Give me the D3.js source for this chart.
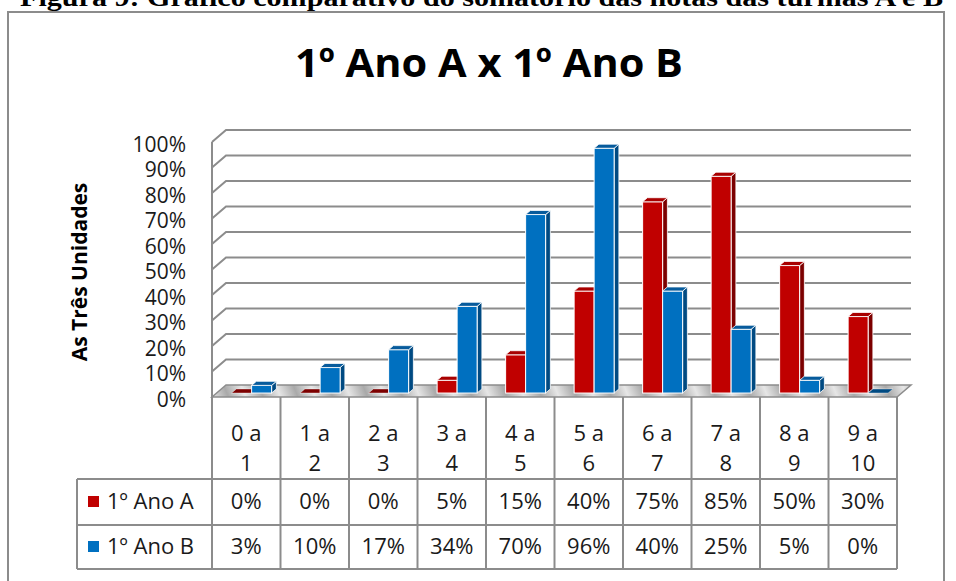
<!DOCTYPE html>
<html>
<head>
<meta charset="utf-8">
<script src="https://cdn.jsdelivr.net/npm/d3@7"></script>
<style>
  body { margin: 0; background: #fff; }
  text { font-family: 'Open Sans', 'Noto Sans', sans-serif; fill: #1a1a1a; }
</style>
</head>
<body>
<div id="graphics"></div>
<script>
// data
const categories = ['0 a 1', '1 a 2', '2 a 3', '3 a 4', '4 a 5', '5 a 6', '6 a 7', '7 a 8', '8 a 9', '9 a 10'];
const seriesNames = ['1º Ano A', '1º Ano B'];
const anoA = [0, 0, 0, 5, 15, 40, 75, 85, 50, 30];
const anoB = [3, 10, 17, 34, 70, 96, 40, 25, 5, 0];
const yTicks = [0, 10, 20, 30, 40, 50, 60, 70, 80, 90, 100];

const width = 956;
const height = 581;

// 3d offset of the back wall
const DX = 14;
const DY = 12;
// bars sit between these depth fractions
const zFront = 0.33;
const zBack = 0.67;

const colors = {
	'1º Ano A': { front: '#c00000', side: '#7c0000', top: '#a80000' },
	'1º Ano B': { front: '#0070c0', side: '#004a82', top: '#075b9c' }
};

const svg = d3
	.select('#graphics')
	.append('svg')
	.attr('width', width)
	.attr('height', height);

const defs = svg.append('defs');
const floorGrad = defs.append('linearGradient')
	.attr('id', 'floorGrad')
	.attr('gradientUnits', 'userSpaceOnUse')
	.attr('x1', 0).attr('y1', 0).attr('x2', 30).attr('y2', -12)
	.attr('spreadMethod', 'repeat');
floorGrad.append('stop').attr('offset', '0%').attr('stop-color', '#a9a9a9');
floorGrad.append('stop').attr('offset', '50%').attr('stop-color', '#e6e6e6');
floorGrad.append('stop').attr('offset', '100%').attr('stop-color', '#a9a9a9');

// caption of the figure, cut at the top of the picture
svg.append('text')
	.text('Figura 9: Gráfico comparativo do somatório das notas das turmas A e B')
	.attr('x', 20)
	.attr('y', 6)
	.attr('textLength', 923)
	.attr('lengthAdjust', 'spacingAndGlyphs')
	.style('font-family', "'Liberation Serif', 'DejaVu Serif', serif")
	.style('font-weight', 'bold')
	.style('font-size', '26px')
	.style('fill', '#000');

// frame
svg.append('rect')
	.attr('x', 8)
	.attr('y', 12)
	.attr('width', 936)
	.attr('height', 600)
	.attr('fill', 'none')
	.attr('stroke', '#8c8c8c')
	.attr('stroke-width', 2);

// title
svg.append('text')
	.text('1º Ano A x 1º Ano B')
	.attr('x', 489)
	.attr('y', 77)
	.attr('text-anchor', 'middle')
	.attr('textLength', 388)
	.attr('lengthAdjust', 'spacingAndGlyphs')
	.style('font-weight', 'bold')
	.style('font-size', '40px')
	.style('fill', '#000');

// y axis title
svg.append('text')
	.text('As Três Unidades')
	.attr('transform', 'translate(87,272) rotate(-90)')
	.attr('text-anchor', 'middle')
	.style('font-weight', 'bold')
	.style('font-size', '21px')
	.style('fill', '#000');

// scales
const xPositionScale = d3.scaleBand().domain(categories).range([212, 897]);
const xSeriesScale = d3.scaleBand().domain(seriesNames).range([15, 55]);
const yPositionScale = d3.scaleLinear().domain([0, 100]).range([397, 142]);

const x0 = xPositionScale.range()[0];
const x1 = xPositionScale.range()[1];
const yBase = yPositionScale(0);

// gridlines on back wall + left wall diagonals
const grid = svg.append('g').attr('class', 'grid');
grid.selectAll('.gline')
	.data(yTicks.filter((d) => d > 0))
	.join('polyline')
	.attr('points', (d) => {
		const yf = yPositionScale(d);
		return [[x0, yf], [x0 + DX, yf - DY], [x1 + DX, yf - DY]].join(' ');
	})
	.attr('fill', 'none')
	.attr('stroke', '#8c8c8c')
	.attr('stroke-width', 2);

// floor
svg.append('polygon')
	.attr('points', [[x0, yBase], [x0 + DX, yBase - DY], [x1 + DX, yBase - DY], [x1, yBase]].join(' '))
	.attr('fill', 'url(#floorGrad)')
	.attr('stroke', '#8c8c8c')
	.attr('stroke-width', 1.5);

// y tick labels
svg.append('g')
	.selectAll('text')
	.data(yTicks)
	.join('text')
	.text((d) => d + '%')
	.attr('x', 186)
	.attr('y', (d) => yPositionScale(d) + 4)
	.attr('text-anchor', 'end')
	.attr('dominant-baseline', 'middle')
	.style('font-size', '21px');

// bars
const barData = [];
categories.forEach((c, i) => {
	barData.push({ cat: c, series: seriesNames[0], value: anoA[i] });
	barData.push({ cat: c, series: seriesNames[1], value: anoB[i] });
});

const bars = svg.append('g').attr('class', 'bars')
	.selectAll('g')
	.data(barData)
	.join('g');

bars.each(function (d) {
	const g = d3.select(this);
	const fdx = DX * zFront;
	const fdy = DY * zFront;
	const ddx = DX * (zBack - zFront);
	const ddy = DY * (zBack - zFront);
	const left = xPositionScale(d.cat) + xSeriesScale(d.series) + fdx;
	const right = left + xSeriesScale.bandwidth();
	const bottom = yBase - fdy;
	const top = yPositionScale(d.value) - fdy;
	const col = colors[d.series];

	if (d.value > 0) {
		g.append('polygon')
			.attr('points', [[right, bottom], [right + ddx, bottom - ddy], [right + ddx, top - ddy], [right, top]].join(' '))
			.attr('fill', col.side)
			.attr('stroke', '#fff')
			.attr('stroke-width', 0.8);
		g.append('rect')
			.attr('x', left)
			.attr('y', top)
			.attr('width', right - left)
			.attr('height', bottom - top)
			.attr('fill', col.front)
			.attr('stroke', '#fff')
			.attr('stroke-width', 1);
	}
	g.append('polygon')
		.attr('points', [[left, top], [left + ddx, top - ddy], [right + ddx, top - ddy], [right, top]].join(' '))
		.attr('fill', d.value > 0 ? col.top : col.side)
		.attr('stroke', '#fff')
		.attr('stroke-width', d.value > 0 ? 0.8 : 0.4);
});

// data table
const rowHeader = [397, 479];
const rowA = [479, 525];
const rowB = [525, 569];
const legendLeft = 77;

const table = svg.append('g').attr('class', 'table');
const lineStyle = (sel) => sel.attr('stroke', '#8c8c8c').attr('stroke-width', 2);

// left wall front edge down through header row
table.append('line')
	.attr('x1', x0).attr('x2', x0)
	.attr('y1', yPositionScale(100)).attr('y2', rowB[1])
	.call(lineStyle);

table.selectAll('.vline')
	.data(categories)
	.join('line')
	.attr('x1', (d) => xPositionScale(d) + xPositionScale.bandwidth())
	.attr('x2', (d) => xPositionScale(d) + xPositionScale.bandwidth())
	.attr('y1', rowHeader[0])
	.attr('y2', rowB[1])
	.call(lineStyle);

table.append('line')
	.attr('x1', legendLeft).attr('x2', legendLeft)
	.attr('y1', rowA[0]).attr('y2', rowB[1])
	.call(lineStyle);

table.selectAll('.hline')
	.data([rowA[0], rowB[0], rowB[1]])
	.join('line')
	.attr('x1', legendLeft).attr('x2', x1)
	.attr('y1', (d) => d).attr('y2', (d) => d)
	.call(lineStyle);

// category labels on two lines
const catLabels = table.selectAll('.cat')
	.data(categories)
	.join('text')
	.attr('text-anchor', 'middle')
	.style('font-size', '22px');
catLabels.append('tspan')
	.text((d) => d.slice(0, d.lastIndexOf(' ')))
	.attr('x', (d) => xPositionScale(d) + xPositionScale.bandwidth() / 2)
	.attr('y', 441);
catLabels.append('tspan')
	.text((d) => d.slice(d.lastIndexOf(' ') + 1))
	.attr('x', (d) => xPositionScale(d) + xPositionScale.bandwidth() / 2)
	.attr('y', 471);

// value rows
[[anoA, rowA], [anoB, rowB]].forEach(([vals, row]) => {
	table.append('g')
		.selectAll('text')
		.data(vals)
		.join('text')
		.text((d) => d + '%')
		.attr('x', (d, i) => xPositionScale(categories[i]) + xPositionScale.bandwidth() / 2)
		.attr('y', (row[0] + row[1]) / 2 + 1)
		.attr('text-anchor', 'middle')
		.attr('dominant-baseline', 'middle')
		.style('font-size', '22px');
});

// legend keys in the table
const legendRows = [rowA, rowB];
seriesNames.forEach((s, i) => {
	const mid = (legendRows[i][0] + legendRows[i][1]) / 2;
	table.append('rect')
		.attr('x', 88)
		.attr('y', mid - 6)
		.attr('width', 11)
		.attr('height', 11)
		.attr('fill', colors[s].front);
	table.append('text')
		.text(s)
		.attr('x', 107)
		.attr('y', mid + 1)
		.attr('dominant-baseline', 'middle')
		.style('font-size', '22px');
});
</script>
</body>
</html>
